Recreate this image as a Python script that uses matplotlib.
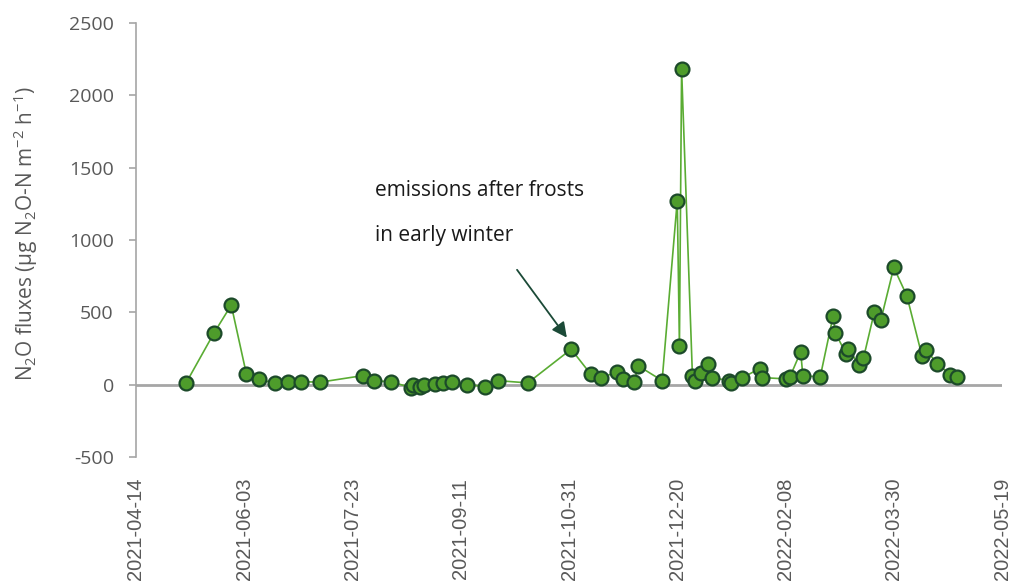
import matplotlib
matplotlib.use("Agg")
import matplotlib.pyplot as plt
import matplotlib.dates as mdates
import numpy as np
import pandas as pd

# Sampling dates and measured N2O fluxes (µg N2O-N m-2 h-1)
dates = [
    "2021-05-07", "2021-05-20", "2021-05-28", "2021-06-04", "2021-06-10",
    "2021-06-17", "2021-06-23", "2021-06-29", "2021-07-08", "2021-07-28",
    "2021-08-02", "2021-08-10", "2021-08-19", "2021-08-20", "2021-08-23",
    "2021-08-25", "2021-08-30", "2021-09-03", "2021-09-07", "2021-09-14",
    "2021-09-22", "2021-09-28", "2021-10-12", "2021-11-01", "2021-11-10",
    "2021-11-15", "2021-11-22", "2021-11-25", "2021-11-30", "2021-12-02",
    "2021-12-13", "2021-12-20", "2021-12-21", "2021-12-22", "2021-12-27",
    "2021-12-28", "2021-12-31", "2022-01-03", "2022-01-05", "2022-01-13",
    "2022-01-14", "2022-01-19", "2022-01-27", "2022-01-28", "2022-02-08",
    "2022-02-10", "2022-02-15", "2022-02-16", "2022-02-24", "2022-03-02",
    "2022-03-03", "2022-03-08", "2022-03-09", "2022-03-14", "2022-03-16",
    "2022-03-21", "2022-03-24", "2022-03-30", "2022-04-05", "2022-04-12",
    "2022-04-14", "2022-04-19", "2022-04-25", "2022-04-28",
]
flux = [
    8, 356, 550, 73, 38,
    10, 19, 21, 17, 63,
    28, 19, -20, -3, -13,
    -3, 6, 10, 17, 1,
    -13, 28, 12, 245, 73,
    49, 86, 38, 15, 130,
    28, 1273, 268, 2182, 63,
    28, 80, 146, 49, 28,
    8, 47, 111, 49, 40,
    52, 227, 63, 52, 476,
    358, 213, 245, 137, 183,
    501, 445, 810, 616, 201,
    239, 146, 70, 54,
]

tick_dates = ["2021-04-14", "2021-06-03", "2021-07-23", "2021-09-11", "2021-10-31",
              "2021-12-20", "2022-02-08", "2022-03-30", "2022-05-19"]
y_ticks = [-500, 0, 500, 1000, 1500, 2000, 2500]

note_lines = ["emissions after frosts", "in early winter"]
note_target = ("2021-10-30", 325)
note_tail = ("2021-10-07", 794)

x = pd.to_datetime(dates)
xt = pd.to_datetime(tick_dates)

grey_txt = "#595959"
axis_grey = "#a6a6a6"

plt.rcParams["axes.unicode_minus"] = False
plt.rcParams["mathtext.fontset"] = "custom"
plt.rcParams["mathtext.rm"] = "Open Sans"
plt.rcParams["mathtext.it"] = "Open Sans:italic"

fig = plt.figure(figsize=(10.14, 5.84), dpi=100)
ax = fig.add_axes([0.1341, 0.2175, 0.9882 - 0.1341, 0.9606 - 0.2175])

ax.axhline(0, color=axis_grey, lw=2.0, zorder=1)
ax.plot(x, flux, color="#5aac33", lw=1.2, zorder=2)
ax.plot(x, flux, linestyle="none", marker="o", markersize=10,
        markerfacecolor="#4e9c2b", markeredgecolor="#1c4a2a", markeredgewidth=1.6,
        zorder=3)

ax.set_xlim(xt[0], xt[-1])
ax.set_ylim(-500, 2500)
ax.set_xticks(xt)
ax.xaxis.set_major_formatter(mdates.DateFormatter("%Y-%m-%d"))
ax.set_yticks(y_ticks)

for s in ("top", "right", "bottom"):
    ax.spines[s].set_visible(False)
ax.spines["left"].set_color(axis_grey)
ax.spines["left"].set_linewidth(1.2)

ax.tick_params(axis="y", direction="out", length=5, width=1.2, color=axis_grey,
               pad=11, labelcolor=grey_txt)
ax.tick_params(axis="x", length=0, pad=15, labelcolor=grey_txt)
for lab in ax.get_yticklabels():
    lab.set_fontfamily("Open Sans")
    lab.set_fontsize(14)
for lab in ax.get_xticklabels():
    lab.set_fontfamily("Liberation Sans")
    lab.set_fontsize(14.5)
    lab.set_rotation(90)

fig.text(26 / 1014, 1 - 234 / 584,
         r"N$_2$O fluxes (µg N$_2$O-N m$^{-2}$ h$^{-1}$)",
         rotation=90, ha="center", va="center", fontsize=15,
         color=grey_txt, family="Open Sans")

# annotation
ax.text(0.2765, 0.615, note_lines[0], transform=ax.transAxes, fontsize=15,
        family="Open Sans", color="#1a1a1a", ha="left", va="center")
ax.text(0.2765, 0.5115, note_lines[1], transform=ax.transAxes, fontsize=15,
        family="Open Sans", color="#1a1a1a", ha="left", va="center")
ax.annotate("", xy=(pd.Timestamp(note_target[0]), note_target[1]),
            xytext=(pd.Timestamp(note_tail[0]), note_tail[1]),
            arrowprops=dict(arrowstyle="-|>,head_length=0.9,head_width=0.45",
                            color="#1b4a37", lw=1.3, shrinkA=0, shrinkB=0),
            zorder=4)

fig.savefig("out.png", dpi=100)
